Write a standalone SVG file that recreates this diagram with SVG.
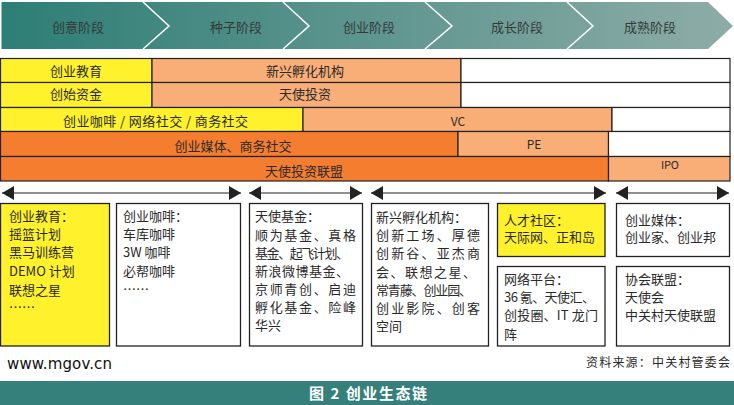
<svg xmlns="http://www.w3.org/2000/svg" width="734" height="405" viewBox="0 0 734 405">
<style>
text{font-family:"Noto Sans CJK SC","Liberation Sans",sans-serif;fill:#2a2a2a;font-size:13px}
.c{text-anchor:middle}
.s{font-size:13px;fill:#333a38}
.cell{stroke:#222;stroke-width:1.2}
.y{fill:#fff22d}.l{fill:#f9ae78}.d{fill:#f47d30}.w{fill:#fff}
.box{stroke:#222;stroke-width:1.3}
.conn{stroke:#222;stroke-width:1.2;fill:none;marker-start:url(#ah);marker-end:url(#ah)}
.sep{stroke:#fff;stroke-width:1.5;fill:none}
</style>
<defs>
<linearGradient id="g" x1="0" x2="1" y1="0" y2="0"><stop offset="0" stop-color="#2d7e76"/><stop offset="1" stop-color="#8eaca7"/></linearGradient>
<marker id="ah" viewBox="0 0 12 14" refX="12" refY="7" markerWidth="12" markerHeight="14" markerUnits="userSpaceOnUse" orient="auto-start-reverse"><path d="M0 0L12 7L0 14Z" fill="#222"/></marker>
</defs>
<rect width="734" height="405" fill="#fff"/>
<g id="stages">
<path d="M1.5 2H708L733 26L708 49H1.5Z" fill="url(#g)"/>
<path class="sep" d="M143 2L169 26L143 49M283 2L309 26L283 49M425 2L452 26L425 49M567 2L593 26L567 49"/>
<text class="c s" x="78" y="32">创意阶段</text>
<text class="c s" x="236" y="32">种子阶段</text>
<text class="c s" x="369" y="32">创业阶段</text>
<text class="c s" x="517" y="32">成长阶段</text>
<text class="c s" x="650" y="32">成熟阶段</text>
</g>
<g id="table">
<g id="row1"><rect class="cell y" x="0.5" y="58.5" width="151.5" height="24"/><rect class="cell l" x="152" y="58.5" width="309" height="24"/><rect class="cell w" x="461" y="58.5" width="269" height="24"/>
<text class="c" x="76" y="76">创业教育</text><text class="c" x="305" y="76">新兴孵化机构</text></g>
<g id="row2"><rect class="cell y" x="0.5" y="82.5" width="151.5" height="25"/><rect class="cell l" x="152" y="82.5" width="309" height="25"/><rect class="cell w" x="461" y="82.5" width="269" height="25"/>
<text class="c" x="76" y="99">创始资金</text><text class="c" x="305" y="99">天使投资</text></g>
<g id="row3"><rect class="cell y" x="0.5" y="107.5" width="302.5" height="24"/><rect class="cell l" x="303" y="107.5" width="309" height="24"/><rect class="cell w" x="612" y="107.5" width="118" height="24"/>
<text x="63" y="126" textLength="185">创业咖啡 / 网络社交 / 商务社交</text><text class="c" x="458" y="126" style="font-size:12px">VC</text></g>
<g id="row4"><rect class="cell d" x="0.5" y="131.5" width="457.5" height="25"/><rect class="cell l" x="458" y="131.5" width="150.5" height="25"/><rect class="cell w" x="608.5" y="131.5" width="121.5" height="25"/>
<text class="c" x="233" y="151">创业媒体、商务社交</text><text class="c" x="534" y="149" style="font-size:12px">PE</text></g>
<g id="row5"><rect class="cell d" x="0.5" y="156.5" width="608" height="24.5"/><rect class="cell l" x="608.5" y="156.5" width="121.5" height="24.5"/>
<text class="c" x="304" y="176">天使投资联盟</text><text x="661" y="169" textLength="18" style="font-size:11px">IPO</text></g>
</g>
<g id="connectors">
<line class="conn" x1="2" y1="193" x2="241" y2="193"/>
<line class="conn" x1="249" y1="193" x2="362" y2="193"/>
<line class="conn" x1="371" y1="193" x2="606" y2="193"/>
<line class="conn" x1="616" y1="193" x2="729" y2="193"/>
</g>
<g id="box-education"><rect class="box y" x="0.5" y="203.5" width="109" height="142.5"/>
<text x="9" y="221">创业教育：</text><text x="9" y="239">摇篮计划</text><text x="9" y="257">黑马训练营</text><text x="9" y="276">DEMO 计划</text><text x="9" y="295">联想之星</text><text x="9" y="312">……</text></g>
<g id="box-coffee"><rect class="box w" x="116.5" y="203.5" width="124" height="142.5"/>
<text x="123" y="221">创业咖啡：</text><text x="123" y="239">车库咖啡</text><text x="123" y="257">3W 咖啡</text><text x="123" y="276">必帮咖啡</text><text x="123" y="294">……</text></g>
<g id="box-angel"><rect class="box w" x="249.5" y="203.5" width="113" height="142.5"/>
<text x="255" y="221">天使基金：</text><text x="255" y="240" textLength="101">顺为基金、真格</text><text x="255" y="258" textLength="94">基金、起飞计划、</text><text x="255" y="276" textLength="94">新浪微博基金、</text><text x="255" y="294" textLength="101">京师青创、启迪</text><text x="255" y="312" textLength="101">孵化基金、险峰</text><text x="255" y="330">华兴</text></g>
<g id="box-incubator"><rect class="box w" x="371.5" y="203.5" width="117" height="142.5"/>
<text x="376" y="222">新兴孵化机构：</text><text x="376" y="240" textLength="104">创新工场、厚德</text><text x="376" y="258" textLength="104">创新谷、亚杰商</text><text x="376" y="277" textLength="100">会、联想之星、</text><text x="376" y="295" textLength="96">常青藤、创业园、</text><text x="376" y="313" textLength="104">创业影院、创客</text><text x="376" y="331">空间</text></g>
<g id="box-talent"><rect class="box y" x="497.5" y="203.5" width="107.5" height="53"/>
<text x="504" y="225">人才社区：</text><text x="504" y="242">天际网、正和岛</text></g>
<g id="box-network"><rect class="box w" x="497.5" y="266.5" width="107.5" height="79.5"/>
<text x="504" y="284">网络平台：</text><text x="504" y="302" textLength="91">36 氪、天使汇、</text><text x="504" y="320" textLength="94">创投圈、IT 龙门</text><text x="504" y="339">阵</text></g>
<g id="box-media"><rect class="box w" x="616.5" y="203.5" width="113" height="53"/>
<text x="625" y="225">创业媒体：</text><text x="625" y="242">创业家、创业邦</text></g>
<g id="box-alliance"><rect class="box w" x="616.5" y="266.5" width="113" height="79.5"/>
<text x="625" y="284">协会联盟：</text><text x="625" y="302">天使会</text><text x="625" y="320">中关村天使联盟</text></g>
<g id="footer">
<text x="7" y="369" textLength="105" style="font-family:'DejaVu Sans',sans-serif;font-size:15px;fill:#111">www.mgov.cn</text>
<text x="586" y="367" textLength="144" style="font-size:12px">资料来源：中关村管委会</text>
<rect x="0" y="381" width="734" height="24" fill="#35807a"/>
<text x="309" y="399" textLength="118" style="fill:#fff;font-weight:700;font-size:15px">图 2 创业生态链</text>
</g>
</svg>
